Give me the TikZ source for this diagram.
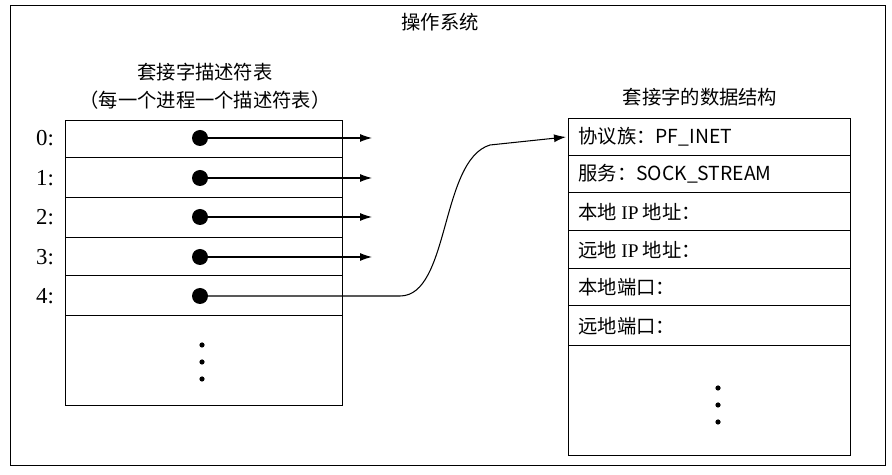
\documentclass[tikz,border=0pt]{standalone}
\usepackage{fontspec}
\setmainfont{Liberation Serif}
\newfontfamily\cjk{Noto Sans CJK SC}
\usetikzlibrary{arrows.meta}
\begin{document}
\begin{tikzpicture}[x=0.02cm,y=-0.02cm,font=\cjk\fontsize{11}{13}\selectfont,
    ptr/.style={-{Latex[length=2.4mm,width=1.6mm]}, line width=0.6pt},
    dotnode/.style={circle, fill=black, inner sep=0pt, minimum size=3.2mm},
    field/.style={anchor=west, inner sep=0pt}]
    \useasboundingbox (0,0) rectangle (892,475);
    \draw (10,5) rectangle (885,465);
    \node (title) at (440,22) {操作系统};

    % Descriptor table
    \node (lhead1) at (205,72) {套接字描述符表};
    \node (lhead2) at (205,100) {（每一个进程一个描述符表）};
    \draw (65,120) rectangle (342,405);
    \foreach \y in {157,197,237,275,315} \draw (65,\y) -- (342,\y);
    \foreach \i/\y in {0/138,1/178,2/217,3/257,4/296} {
        \node[font=\rmfamily\fontsize{13}{15}\selectfont] at (45,\y) {\i:};
        \node[dotnode] (d\i) at (200,\y) {};
        \coordinate (e\i) at (372,\y);
    }
    \foreach \i in {0,1,2,3} \draw[ptr] (d\i.center) -- (e\i);
    \foreach \y in {345,362,379} \fill (202,\y) circle (2.6);

    % Socket data structure
    \node (rhead) at (700,97) {套接字的数据结构};
    \draw (568,118) rectangle (850,455);
    \foreach \y in {155,192,230,268,305,345} \draw (568,\y) -- (850,\y);
    \node[field] (f0) at (578,137) {协议族：PF\_INET};
    \node[field] (f1) at (578,174) {服务：SOCK\_STREAM};
    \node[field] (f2) at (578,212) {本地 {\rmfamily IP} 地址：};
    \node[field] (f3) at (578,250) {远地 {\rmfamily IP} 地址：};
    \node[field] (f4) at (578,287) {本地端口：};
    \node[field] (f5) at (578,326) {远地端口：};
    \coordinate (sock) at (566,137);
    \foreach \y in {388,405,422} \fill (718,\y) circle (2.6);

    \draw[ptr] (d4.center) -- (400,296) .. controls (450,296) and (440,160) .. (490,145) -- (sock);
\end{tikzpicture}
\end{document}
